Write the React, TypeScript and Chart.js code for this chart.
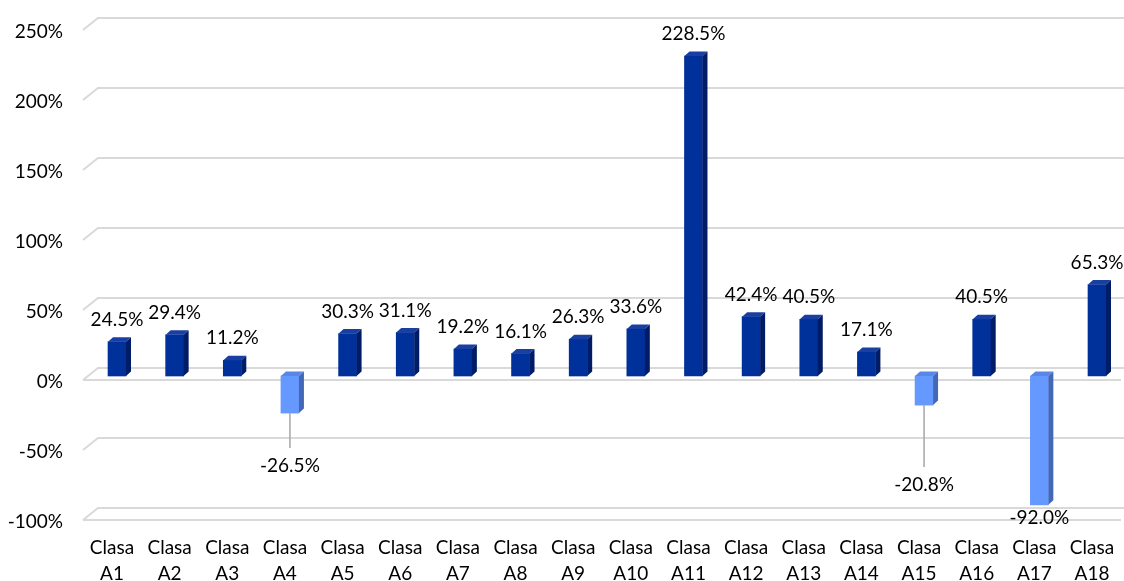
import React, { useEffect, useRef } from 'react';
import { Chart, registerables } from 'chart.js';

Chart.register(...registerables);

const categories: string[][] = [
  ['Clasa', 'A1'], ['Clasa', 'A2'], ['Clasa', 'A3'], ['Clasa', 'A4'], ['Clasa', 'A5'], ['Clasa', 'A6'],
  ['Clasa', 'A7'], ['Clasa', 'A8'], ['Clasa', 'A9'], ['Clasa', 'A10'], ['Clasa', 'A11'], ['Clasa', 'A12'],
  ['Clasa', 'A13'], ['Clasa', 'A14'], ['Clasa', 'A15'], ['Clasa', 'A16'], ['Clasa', 'A17'], ['Clasa', 'A18'],
];

const values: number[] = [
  24.5, 29.4, 11.2, -26.5, 30.3, 31.1, 19.2, 16.1, 26.3, 33.6, 228.5, 42.4, 40.5, 17.1, -20.8, 40.5, -92.0, 65.3,
];

const yMin = -100;
const yMax = 250;
const yStep = 50;

// Label placement for negative bars (pixels below the bar's bottom), as Excel placed them
const negLabelDrop: Record<number, number> = { 3: 53, 14: 80, 16: 13 };

const FONT = 'Lato, "Open Sans", sans-serif';
const FONT_SIZE = 19;
const TEXT = '#000000';
const GRID = '#D9D9D9';
const POS = { front: '#00309A', side: '#001C66', top: '#1A3FA3' };
const NEG = { front: '#6699FF', side: '#4468B8', top: '#5A86E6' };

const BAR_DX = 5;
const BAR_DY = 4.5;

const threeD = {
  id: 'threeD',
  beforeDatasetsDraw(chart: any) {
    const { ctx, chartArea, scales } = chart;
    const ys = scales.y;
    const leftFront = chartArea.left - 34;
    const leftBack = chartArea.left - 19;
    const right = chart.width;
    ctx.save();
    ctx.strokeStyle = GRID;
    ctx.lineWidth = 2;
    ys.ticks.forEach((t: any) => {
      const py = ys.getPixelForValue(t.value);
      const back = py - 8;
      const front = py + 4;
      ctx.beginPath();
      ctx.moveTo(leftFront, front);
      ctx.lineTo(leftBack, back);
      ctx.lineTo(right, back);
      if (t.value === 0 || t.value === yMin) {
        ctx.moveTo(leftFront, front);
        ctx.lineTo(right - 3, front);
      }
      ctx.stroke();
    });
    ctx.restore();
  },
  afterDatasetsDraw(chart: any) {
    const { ctx } = chart;
    const meta = chart.getDatasetMeta(0);
    ctx.save();
    meta.data.forEach((el: any, i: number) => {
      const v = values[i];
      const c = v >= 0 ? POS : NEG;
      const x0 = el.x - el.width / 2;
      const x1 = el.x + el.width / 2;
      const top = Math.min(el.y, el.base);
      const bottom = Math.max(el.y, el.base);
      // top face
      ctx.fillStyle = c.top;
      ctx.beginPath();
      ctx.moveTo(x0, top);
      ctx.lineTo(x0 + BAR_DX, top - BAR_DY);
      ctx.lineTo(x1 + BAR_DX, top - BAR_DY);
      ctx.lineTo(x1, top);
      ctx.closePath();
      ctx.fill();
      // side face
      ctx.fillStyle = c.side;
      ctx.beginPath();
      ctx.moveTo(x1, top);
      ctx.lineTo(x1 + BAR_DX, top - BAR_DY);
      ctx.lineTo(x1 + BAR_DX, bottom - BAR_DY);
      ctx.lineTo(x1, bottom);
      ctx.closePath();
      ctx.fill();
    });
    // data labels
    ctx.font = `${FONT_SIZE}px ${FONT}`;
    ctx.fillStyle = TEXT;
    ctx.textAlign = 'center';
    ctx.textBaseline = 'middle';
    meta.data.forEach((el: any, i: number) => {
      const v = values[i];
      const txt = v.toFixed(1) + '%';
      if (v >= 0) {
        ctx.fillText(txt, el.x, el.y - 22);
      } else {
        const drop = negLabelDrop[i] ?? 14;
        const ly = el.y + drop;
        if (drop > 30) {
          ctx.save();
          ctx.strokeStyle = '#A6A6A6';
          ctx.lineWidth = 1.5;
          ctx.beginPath();
          ctx.moveTo(el.x, el.y);
          ctx.lineTo(el.x, ly - 18);
          ctx.stroke();
          ctx.restore();
        }
        ctx.fillStyle = TEXT;
        ctx.fillText(txt, el.x, ly);
      }
    });
    ctx.restore();
  },
};

export default function App() {
  const ref = useRef<HTMLCanvasElement>(null);
  useEffect(() => {
    document.body.style.margin = '0';
    const chart = new Chart(ref.current!, {
      type: 'bar',
      data: {
        labels: categories,
        datasets: [
          {
            data: values,
            backgroundColor: values.map((v) => (v >= 0 ? POS.front : NEG.front)),
            borderWidth: 0,
            barThickness: 18,
            clip: false as any,
          },
        ],
      },
      options: {
        responsive: false,
        animation: false,
        layout: { padding: { top: 26, right: 27, left: 0, bottom: 0 } },
        plugins: { legend: { display: false }, tooltip: { enabled: false } },
        scales: {
          x: {
            offset: false,
            grid: { display: false, drawTicks: false },
            border: { display: false },
            ticks: {
              font: { family: FONT, size: FONT_SIZE, lineHeight: 1.35 },
              color: TEXT,
              padding: 19,
              labelOffset: -5,
              maxRotation: 0,
              autoSkip: false,
            },
            afterFit: (s: any) => {
              s.height = 65;
              s.paddingLeft = 0;
              s.paddingRight = 0;
            },
          },
          y: {
            min: yMin,
            max: yMax,
            grid: { display: false, drawTicks: false },
            border: { display: false },
            ticks: {
              stepSize: yStep,
              font: { family: FONT, size: FONT_SIZE },
              color: TEXT,
              padding: 54,
              labelOffset: 6,
              callback: (v: any) => `${v}%`,
            },
            afterFit: (s: any) => {
              s.width = 117;
              s.paddingTop = 0;
              s.paddingBottom = 0;
            },
          },
        },
      },
      plugins: [threeD],
    });
    return () => chart.destroy();
  }, []);
  return (
    <div style={{ position: 'absolute', left: 0, top: 0, width: 1124, height: 581, background: '#fff' }}>
      <canvas ref={ref} width={1124} height={581} />
    </div>
  );
}
